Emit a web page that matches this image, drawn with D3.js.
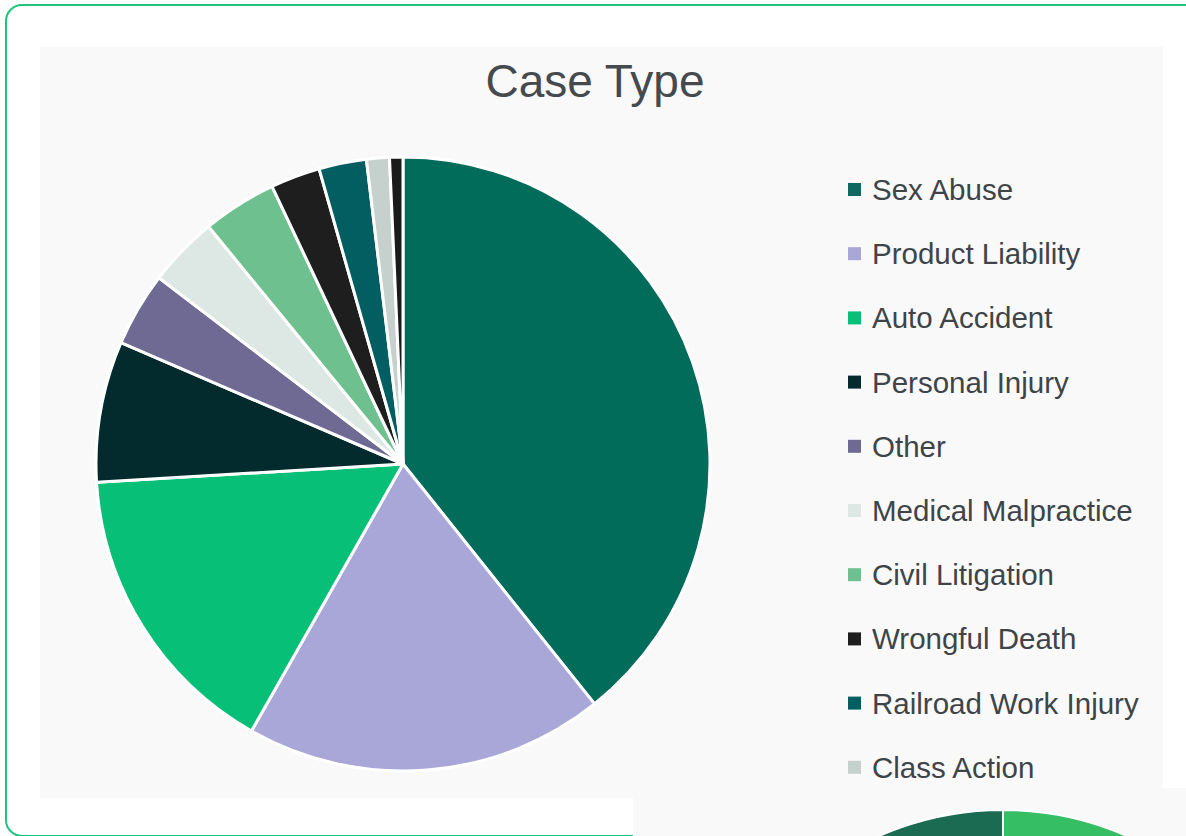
<!DOCTYPE html>
<html>
<head>
<meta charset="utf-8">
<script src="https://cdn.jsdelivr.net/npm/d3@7"></script>
<style>
  html, body { margin: 0; padding: 0; background: #ffffff; }
  svg { display: block; }
</style>
</head>
<body>
<svg id="chart" width="1186" height="836"></svg>
<script>
// ---- data ----
const categories = ["Sex Abuse", "Product Liability", "Auto Accident", "Personal Injury", "Other",
  "Medical Malpractice", "Civil Litigation", "Wrongful Death", "Railroad Work Injury", "Class Action", "Employment"];
const shares = [39.2, 18.9, 15.8, 7.4, 3.9, 3.7, 3.9, 2.6, 2.5, 1.2, 0.7];
const sliceColors = ["#026c5b", "#a9a6d8", "#08bf78", "#032a2d", "#6f6a94",
  "#dde8e4", "#6fc08f", "#1e1e1e", "#035e62", "#c6d0cd", "#1a1a1a"];
const legendColors = ["#0f6960", "#a9a6d8", "#08bf78", "#032a2d", "#6f6a94",
  "#dde8e4", "#6fc08f", "#1e1e1e", "#035e62", "#c6d0cd", "#1a1a1a"];
const title = "Case Type";

// second (partially visible) chart below
const secondShares = [55, 45];
const secondColors = ["#35be64", "#1a6b52"];

// ---- drawing ----
const svg = d3.select("#chart");

// card border
svg.append("rect")
  .attr("x", 6).attr("y", 5).attr("width", 1220).attr("height", 831)
  .attr("rx", 16).attr("ry", 16)
  .attr("fill", "#ffffff").attr("stroke", "#1dc57a").attr("stroke-width", 2);

// second panel (bottom right)
svg.append("rect").attr("x", 633).attr("y", 788).attr("width", 560).attr("height", 60).attr("fill", "#f9f9f9");

// main panel
const panel = { x: 40, y: 47, w: 1123, h: 751 };
svg.append("rect").attr("x", panel.x).attr("y", panel.y).attr("width", panel.w).attr("height", panel.h)
  .attr("fill", "#f9f9f9");

// title
svg.append("text")
  .attr("x", 595).attr("y", 97)
  .attr("text-anchor", "middle")
  .attr("font-family", "Liberation Sans, Arial, sans-serif")
  .attr("font-size", 46)
  .attr("fill", "#454a4f")
  .text(title);

// main pie
const data = categories.map((c, i) => ({ name: c, value: shares[i], color: sliceColors[i] }));
const pie = d3.pie().value(d => d.value).sort(null);
const radius = 307;
const arc = d3.arc().innerRadius(0).outerRadius(radius);

const g = svg.append("g").attr("transform", "translate(403,464)");
g.selectAll("path").data(pie(data)).join("path")
  .attr("d", arc)
  .attr("fill", d => d.data.color)
  .attr("stroke", "#ffffff")
  .attr("stroke-width", 3)
  .attr("stroke-linejoin", "round");

// legend (entries that fit inside the panel)
const legendY = d3.scaleLinear().domain([0, 1]).range([189.5, 253.7]);
const legendData = categories.map((c, i) => ({ name: c, color: legendColors[i], y: legendY(i) }))
  .filter(d => d.y + 14 <= panel.y + panel.h);
const items = svg.append("g").selectAll("g.item").data(legendData).join("g")
  .attr("class", "item")
  .attr("transform", d => `translate(848,${d.y})`);
items.append("rect")
  .attr("x", 0).attr("y", -6.5).attr("width", 13).attr("height", 13)
  .attr("fill", d => d.color);
items.append("text")
  .attr("x", 24).attr("y", 10.5)
  .attr("font-family", "Liberation Sans, Arial, sans-serif")
  .attr("font-size", 29.5)
  .attr("fill", "#3e4448")
  .text(d => d.name);

// second pie (mostly hidden below)
const g2 = svg.append("g").attr("transform", "translate(1003,1118)");
const arc2 = d3.arc().innerRadius(0).outerRadius(308);
g2.selectAll("path").data(d3.pie().sort(null)(secondShares)).join("path")
  .attr("d", arc2)
  .attr("fill", (d, i) => secondColors[i])
  .attr("stroke", "#ffffff")
  .attr("stroke-width", 2);
</script>
</body>
</html>
